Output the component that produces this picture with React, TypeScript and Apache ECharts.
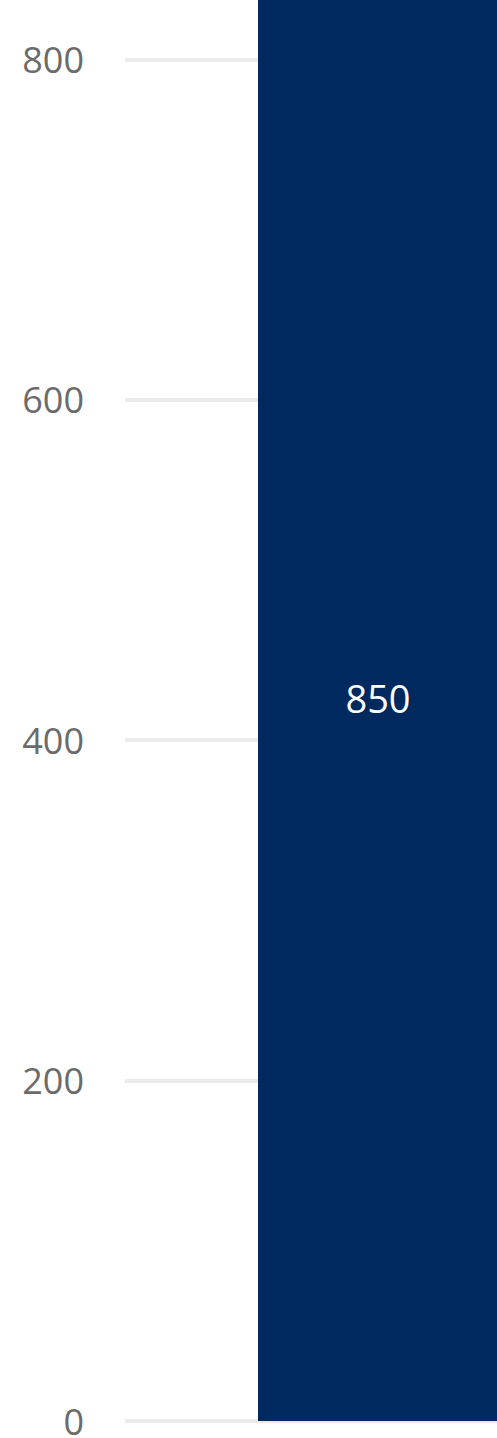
import React, { useEffect, useRef } from "react";
import * as echarts from "echarts";

const categories: string[] = ["A"];
const values: number[] = [850];
const yTicks: number[] = [0, 200, 400, 600, 800, 1000];

export default function App() {
  const ref = useRef<HTMLDivElement>(null);
  useEffect(() => {
    if (!ref.current) return;
    const chart = echarts.init(ref.current, null, { renderer: "svg" });
    chart.setOption({
      animation: false,
      backgroundColor: "#ffffff",
      textStyle: { fontFamily: "Open Sans" },
      grid: {
        left: 125,
        right: 0,
        top: 30,
        bottom: 17,
        containLabel: false,
        outerBoundsMode: "none",
      },
      xAxis: {
        type: "category",
        data: categories,
        axisLine: { show: false },
        axisTick: { show: false },
        axisLabel: { show: false },
      },
      yAxis: {
        type: "value",
        min: yTicks[0],
        max: yTicks[yTicks.length - 1],
        interval: 200,
        axisLine: { show: false },
        axisTick: { show: false },
        axisLabel: {
          color: "#6b6b6b",
          fontSize: 36,
          fontFamily: "Open Sans",
          margin: 41,
          showMaxLabel: false,
        },
        splitLine: { lineStyle: { color: "#ebebeb", width: 4 } },
      },
      series: [
        {
          type: "bar",
          data: values,
          barWidth: 240,
          itemStyle: { color: "#00295f" },
          label: {
            show: true,
            position: "inside",
            color: "#ffffff",
            fontSize: 38,
            fontFamily: "Open Sans",
          },
        },
      ],
    });
    return () => chart.dispose();
  }, []);
  return (
    <div
      style={{
        position: "fixed",
        left: 0,
        top: 0,
        width: 497,
        height: 1438,
        overflow: "hidden",
        background: "#ffffff",
      }}
    >
      <div
        ref={ref}
        style={{ position: "absolute", left: 0, top: -311, width: 631, height: 1749 }}
      />
    </div>
  );
}
